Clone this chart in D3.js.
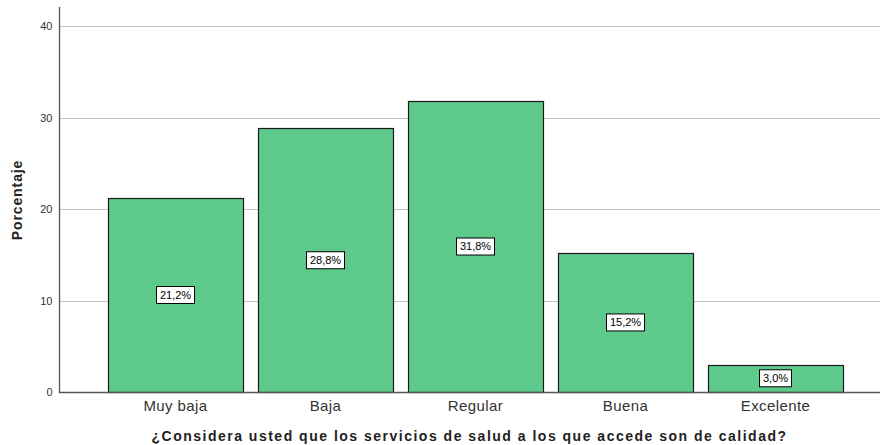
<!DOCTYPE html>
<html>
<head>
<meta charset="utf-8">
<script src="https://cdn.jsdelivr.net/npm/d3@7"></script>
<style>
  body { margin: 0; background: #fff; }
  svg { display: block; font-family: Arial, "Liberation Sans", sans-serif; }
</style>
</head>
<body>
<svg id="chart" width="880" height="445"></svg>
<script>
// Data
var categories = ["Muy baja", "Baja", "Regular", "Buena", "Excelente"];
var percentages = [21.2, 28.8, 31.8, 15.2, 3.0];
var labels = ["21,2%", "28,8%", "31,8%", "15,2%", "3,0%"];
var yTicks = [0, 10, 20, 30, 40];

var svg = d3.select("#chart"),
    width = 880,
    height = 445;

var axisX = 59, axisBottom = 392, axisTop = 7;

var y = d3.scaleLinear().domain([0, 40]).range([axisBottom, 26]);
var x = d3.scaleBand().domain(categories).range([93, 858])
    .paddingInner(0.1).paddingOuter(0.1);

// gridlines
svg.append("g").selectAll("line")
  .data(yTicks.filter(function(d) { return d > 0; }))
  .join("line")
    .attr("x1", axisX).attr("x2", width)
    .attr("y1", function(d) { return Math.round(y(d)) + 0.5; })
    .attr("y2", function(d) { return Math.round(y(d)) + 0.5; })
    .attr("stroke", "#c4c4c4").attr("stroke-width", 1);

// y axis
var yAxis = d3.axisLeft(y).tickValues(yTicks).tickSize(0).tickPadding(7);
var gy = svg.append("g").attr("transform", "translate(" + (axisX + 0.5) + ",0)").call(yAxis);
gy.select(".domain").remove();
gy.selectAll("text").attr("font-size", 11).attr("fill", "#333").attr("font-family", "Arial, 'Liberation Sans', sans-serif");

// bars
svg.append("g").selectAll("rect")
  .data(categories)
  .join("rect")
    .attr("x", function(d) { return Math.round(x(d)) + 0.5; })
    .attr("y", function(d, i) { return Math.round(y(percentages[i])) + 0.5; })
    .attr("width", Math.round(x.bandwidth()))
    .attr("height", function(d, i) { return Math.round(axisBottom - y(percentages[i])); })
    .attr("fill", "#5dca8b")
    .attr("stroke", "#1a1a1a")
    .attr("stroke-width", 1.2);

// value labels
var lbl = svg.append("g").selectAll("g")
  .data(categories)
  .join("g")
    .attr("transform", function(d, i) {
      var cy = (y(percentages[i]) + axisBottom) / 2;
      return "translate(" + (x(d) + x.bandwidth() / 2) + "," + cy + ")";
    });
lbl.append("rect")
    .attr("x", function(d, i) { return labels[i].length > 4 ? -19 : -16; })
    .attr("y", -8.5)
    .attr("width", function(d, i) { return labels[i].length > 4 ? 38 : 32; })
    .attr("height", 17)
    .attr("fill", "#fff").attr("stroke", "#000").attr("stroke-width", 1);
lbl.append("text")
    .attr("text-anchor", "middle").attr("dy", "0.36em")
    .attr("font-size", 11).attr("fill", "#000")
    .text(function(d, i) { return labels[i]; });

// axis lines
svg.append("line")
    .attr("x1", axisX + 0.5).attr("x2", axisX + 0.5)
    .attr("y1", axisTop).attr("y2", axisBottom + 1)
    .attr("stroke", "#555").attr("stroke-width", 1.3);
svg.append("line")
    .attr("x1", axisX).attr("x2", width)
    .attr("y1", axisBottom + 0.5).attr("y2", axisBottom + 0.5)
    .attr("stroke", "#555").attr("stroke-width", 1.3);

// x axis labels
var xAxis = d3.axisBottom(x).tickSize(0).tickPadding(8);
var gx = svg.append("g").attr("transform", "translate(0," + axisBottom + ")").call(xAxis);
gx.select(".domain").remove();
gx.selectAll("text").attr("font-size", 15).attr("letter-spacing", 0.4).attr("fill", "#333")
    .attr("font-family", "Arial, 'Liberation Sans', sans-serif");

// titles
svg.append("text")
    .attr("x", (axisX + width) / 2).attr("y", 441)
    .attr("text-anchor", "middle").attr("font-size", 14).attr("letter-spacing", 1.5)
    .attr("font-weight", "bold").attr("fill", "#222")
    .text("¿Considera usted que los servicios de salud a los que accede son de calidad?");
svg.append("text")
    .attr("transform", "translate(22," + 200 + ") rotate(-90)")
    .attr("text-anchor", "middle").attr("font-size", 14).attr("letter-spacing", 0.9)
    .attr("font-weight", "bold").attr("fill", "#222")
    .text("Porcentaje");
</script>
</body>
</html>
